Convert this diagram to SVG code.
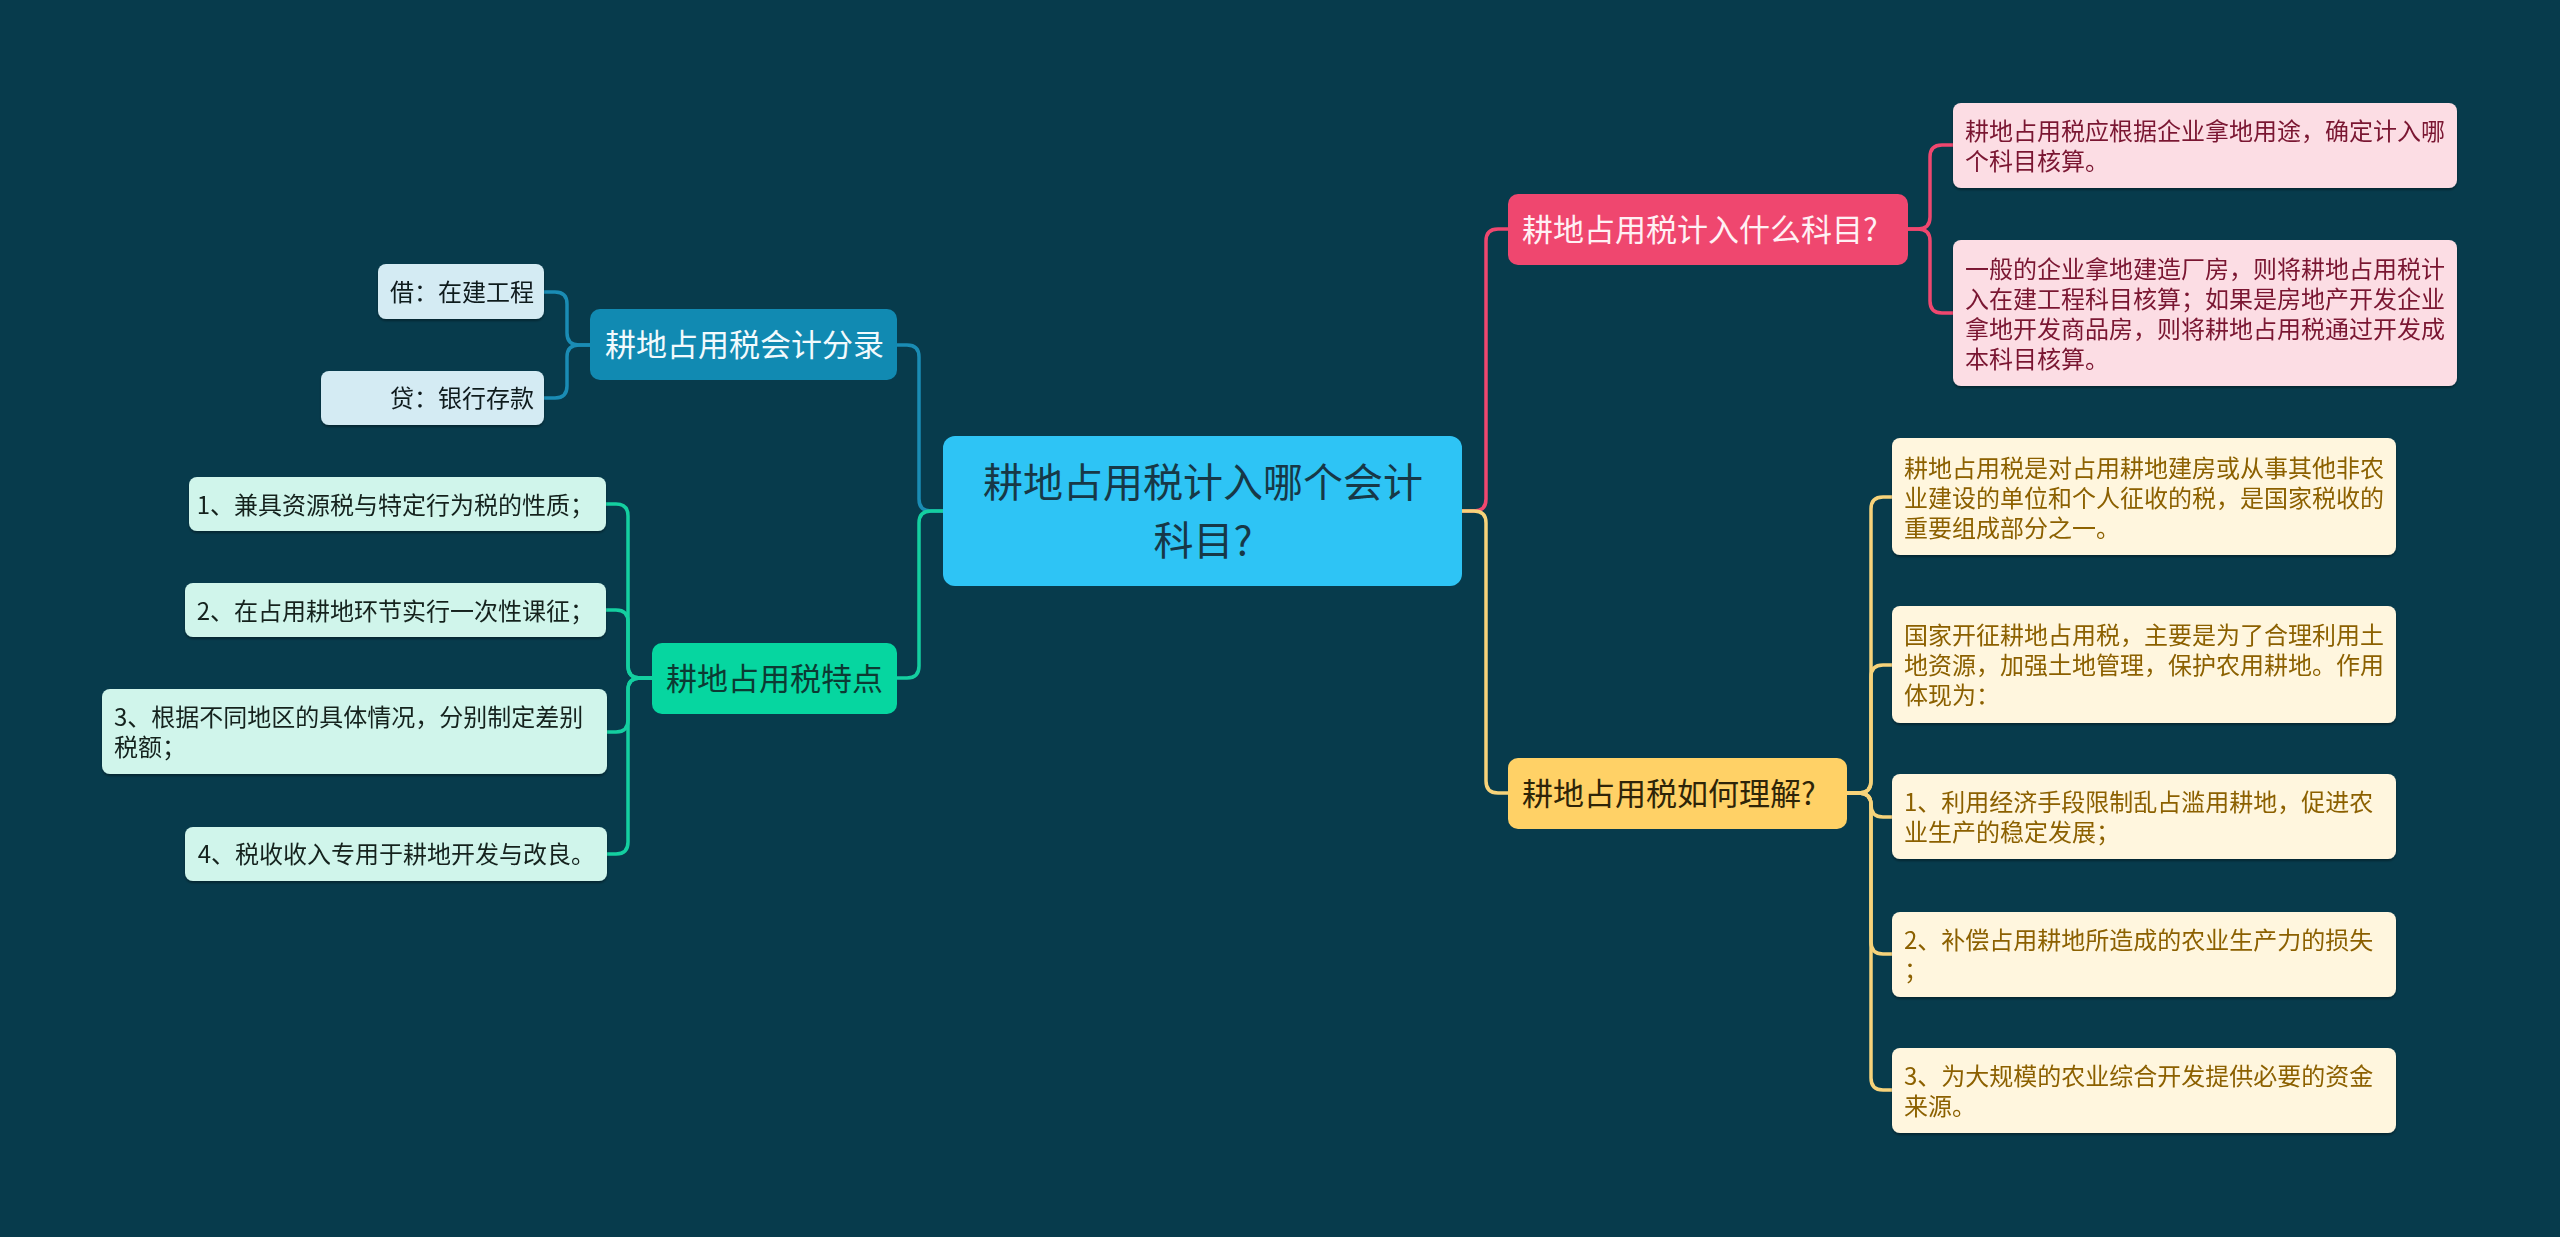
<svg xmlns="http://www.w3.org/2000/svg" width="2560" height="1237" viewBox="0 0 2560 1237">
<defs>
<filter id="sh" x="-5%" y="-10%" width="110%" height="130%">
<feDropShadow dx="0" dy="2" stdDeviation="1.2" flood-color="#000" flood-opacity="0.35"/>
</filter>
<style>
text{font-family:"Noto Sans CJK SC","Noto Sans",sans-serif;}
.c{fill:none;stroke-linecap:round;stroke-linejoin:round;}
.cp{stroke:#EF476F;stroke-width:3.5;}
.cy{stroke:#F7D37A;stroke-width:3.5;}
.cb{stroke:#1A8CB4;stroke-width:3.5;}
.cg{stroke:#14CFA0;stroke-width:3.5;}
.t2{font-size:31px;}
.t3{font-size:24px;}
.nroot{fill:#2EC4F5;}
.np{fill:#EF476F;}
.ny{fill:#FFD166;}
.nb{fill:#118AB2;}
.ng{fill:#06D6A0;}
.lp{fill:#FCDDE4;}
.ly{fill:#FFF6DE;}
.lb{fill:#D4EBF3;}
.lg{fill:#D0F5EB;}
</style>
</defs>
<rect x="0" y="0" width="2560" height="1237" fill="#073B4C"/>

<g id="connectors">
<path class="c cp" d="M1462 511 H1474 Q1486 511 1486 499 V241 Q1486 229 1498 229 H1508"/>
<path class="c cy" d="M1462 511 H1474 Q1486 511 1486 523 V781 Q1486 793 1498 793 H1508"/>
<path class="c cb" d="M943 511 H931 Q919 511 919 499 V357 Q919 345 907 345 H897"/>
<path class="c cg" d="M943 511 H931 Q919 511 919 523 V666 Q919 678 907 678 H897"/>
<path class="c cp" d="M1908 229 H1918 Q1930 229 1930 217 V157 Q1930 145 1942 145 H1953"/>
<path class="c cp" d="M1908 229 H1918 Q1930 229 1930 241 V301 Q1930 313 1942 313 H1953"/>
<path class="c cy" d="M1847 793 H1859 Q1871 793 1871 781 V509 Q1871 497 1883 497 H1892"/>
<path class="c cy" d="M1847 793 H1859 Q1871 793 1871 781 V677 Q1871 665 1883 665 H1892"/>
<path class="c cy" d="M1847 793 H1859 Q1871 793 1871 805 V805 Q1871 817 1883 817 H1892"/>
<path class="c cy" d="M1847 793 H1859 Q1871 793 1871 805 V942 Q1871 954 1883 954 H1892"/>
<path class="c cy" d="M1847 793 H1859 Q1871 793 1871 805 V1078 Q1871 1090 1883 1090 H1892"/>
<path class="c cb" d="M590 345 H579 Q567 345 567 333 V304 Q567 292 555 292 H544"/>
<path class="c cb" d="M590 345 H579 Q567 345 567 357 V386 Q567 398 555 398 H544"/>
<path class="c cg" d="M652 678 H640 Q628 678 628 666 V516 Q628 504 616 504 H606"/>
<path class="c cg" d="M652 678 H640 Q628 678 628 666 V622 Q628 610 616 610 H606"/>
<path class="c cg" d="M652 678 H640 Q628 678 628 690 V720 Q628 732 616 732 H606"/>
<path class="c cg" d="M652 678 H640 Q628 678 628 690 V842 Q628 854 616 854 H606"/>
</g>

<g id="root">
<rect class="nroot" x="943" y="436" width="519" height="150" rx="12"/>
<text x="1203" y="497" font-size="40" fill="#173847" text-anchor="middle">耕地占用税计入哪个会计</text>
<text x="1203" y="555" font-size="40" fill="#173847" text-anchor="middle">科目?</text>
</g>

<g id="n-pink">
<rect class="np" x="1508" y="194" width="400" height="71" rx="10"/>
<text class="t2" x="1522" y="241" fill="#FFF0F4">耕地占用税计入什么科目?</text>
</g>
<g id="n-pink-1" filter="url(#sh)">
<rect class="lp" x="1953" y="103" width="504" height="85" rx="8"/>
<text class="t3" x="1965" y="140" fill="#7A1631">耕地占用税应根据企业拿地用途，确定计入哪</text>
<text class="t3" x="1965" y="170" fill="#7A1631">个科目核算。</text>
</g>
<g id="n-pink-2" filter="url(#sh)">
<rect class="lp" x="1953" y="240" width="504" height="146" rx="8"/>
<text class="t3" x="1965" y="277.5" fill="#7A1631">一般的企业拿地建造厂房，则将耕地占用税计</text>
<text class="t3" x="1965" y="307.5" fill="#7A1631">入在建工程科目核算；如果是房地产开发企业</text>
<text class="t3" x="1965" y="337.5" fill="#7A1631">拿地开发商品房，则将耕地占用税通过开发成</text>
<text class="t3" x="1965" y="367.5" fill="#7A1631">本科目核算。</text>
</g>

<g id="n-yellow">
<rect class="ny" x="1508" y="758" width="339" height="71" rx="10"/>
<text class="t2" x="1522" y="805" fill="#2E2408">耕地占用税如何理解?</text>
</g>
<g id="n-yellow-1" filter="url(#sh)">
<rect class="ly" x="1892" y="438" width="504" height="117" rx="8"/>
<text class="t3" x="1904" y="476.5" fill="#8C6100">耕地占用税是对占用耕地建房或从事其他非农</text>
<text class="t3" x="1904" y="506.5" fill="#8C6100">业建设的单位和个人征收的税，是国家税收的</text>
<text class="t3" x="1904" y="536.5" fill="#8C6100">重要组成部分之一。</text>
</g>
<g id="n-yellow-2" filter="url(#sh)">
<rect class="ly" x="1892" y="606" width="504" height="117" rx="8"/>
<text class="t3" x="1904" y="644" fill="#8C6100">国家开征耕地占用税，主要是为了合理利用土</text>
<text class="t3" x="1904" y="674" fill="#8C6100">地资源，加强土地管理，保护农用耕地。作用</text>
<text class="t3" x="1904" y="704" fill="#8C6100">体现为：</text>
</g>
<g id="n-yellow-3" filter="url(#sh)">
<rect class="ly" x="1892" y="774" width="504" height="85" rx="8"/>
<text class="t3" x="1904" y="811" fill="#8C6100">1、利用经济手段限制乱占滥用耕地，促进农</text>
<text class="t3" x="1904" y="841" fill="#8C6100">业生产的稳定发展；</text>
</g>
<g id="n-yellow-4" filter="url(#sh)">
<rect class="ly" x="1892" y="912" width="504" height="85" rx="8"/>
<text class="t3" x="1904" y="949" fill="#8C6100">2、补偿占用耕地所造成的农业生产力的损失</text>
<text class="t3" x="1904" y="979" fill="#8C6100">；</text>
</g>
<g id="n-yellow-5" filter="url(#sh)">
<rect class="ly" x="1892" y="1048" width="504" height="85" rx="8"/>
<text class="t3" x="1904" y="1085" fill="#8C6100">3、为大规模的农业综合开发提供必要的资金</text>
<text class="t3" x="1904" y="1115" fill="#8C6100">来源。</text>
</g>

<g id="n-blue">
<rect class="nb" x="590" y="309" width="307" height="71" rx="10"/>
<text class="t2" x="605" y="356" fill="#F2FAFD">耕地占用税会计分录</text>
</g>
<g id="n-blue-1" filter="url(#sh)">
<rect class="lb" x="378" y="264" width="166" height="55" rx="8"/>
<text class="t3" x="534" y="300.5" fill="#111A1F" text-anchor="end">借：在建工程</text>
</g>
<g id="n-blue-2" filter="url(#sh)">
<rect class="lb" x="321" y="371" width="223" height="54" rx="8"/>
<text class="t3" x="534" y="407" fill="#111A1F" text-anchor="end">贷：银行存款</text>
</g>

<g id="n-green">
<rect class="ng" x="652" y="643" width="245" height="71" rx="10"/>
<text class="t2" x="666" y="690" fill="#0C3A33">耕地占用税特点</text>
</g>
<g id="n-green-1" filter="url(#sh)">
<rect class="lg" x="189" y="477" width="417" height="54" rx="8"/>
<text class="t3" x="594" y="513.5" fill="#13221E" text-anchor="end">1、兼具资源税与特定行为税的性质；</text>
</g>
<g id="n-green-2" filter="url(#sh)">
<rect class="lg" x="185" y="583" width="421" height="54" rx="8"/>
<text class="t3" x="594" y="619.5" fill="#13221E" text-anchor="end">2、在占用耕地环节实行一次性课征；</text>
</g>
<g id="n-green-3" filter="url(#sh)">
<rect class="lg" x="102" y="689" width="505" height="85" rx="8"/>
<text class="t3" x="114" y="726" fill="#13221E">3、根据不同地区的具体情况，分别制定差别</text>
<text class="t3" x="114" y="756" fill="#13221E">税额；</text>
</g>
<g id="n-green-4" filter="url(#sh)">
<rect class="lg" x="185" y="827" width="422" height="54" rx="8"/>
<text class="t3" x="595" y="863" fill="#13221E" text-anchor="end">4、税收收入专用于耕地开发与改良。</text>
</g>
</svg>
